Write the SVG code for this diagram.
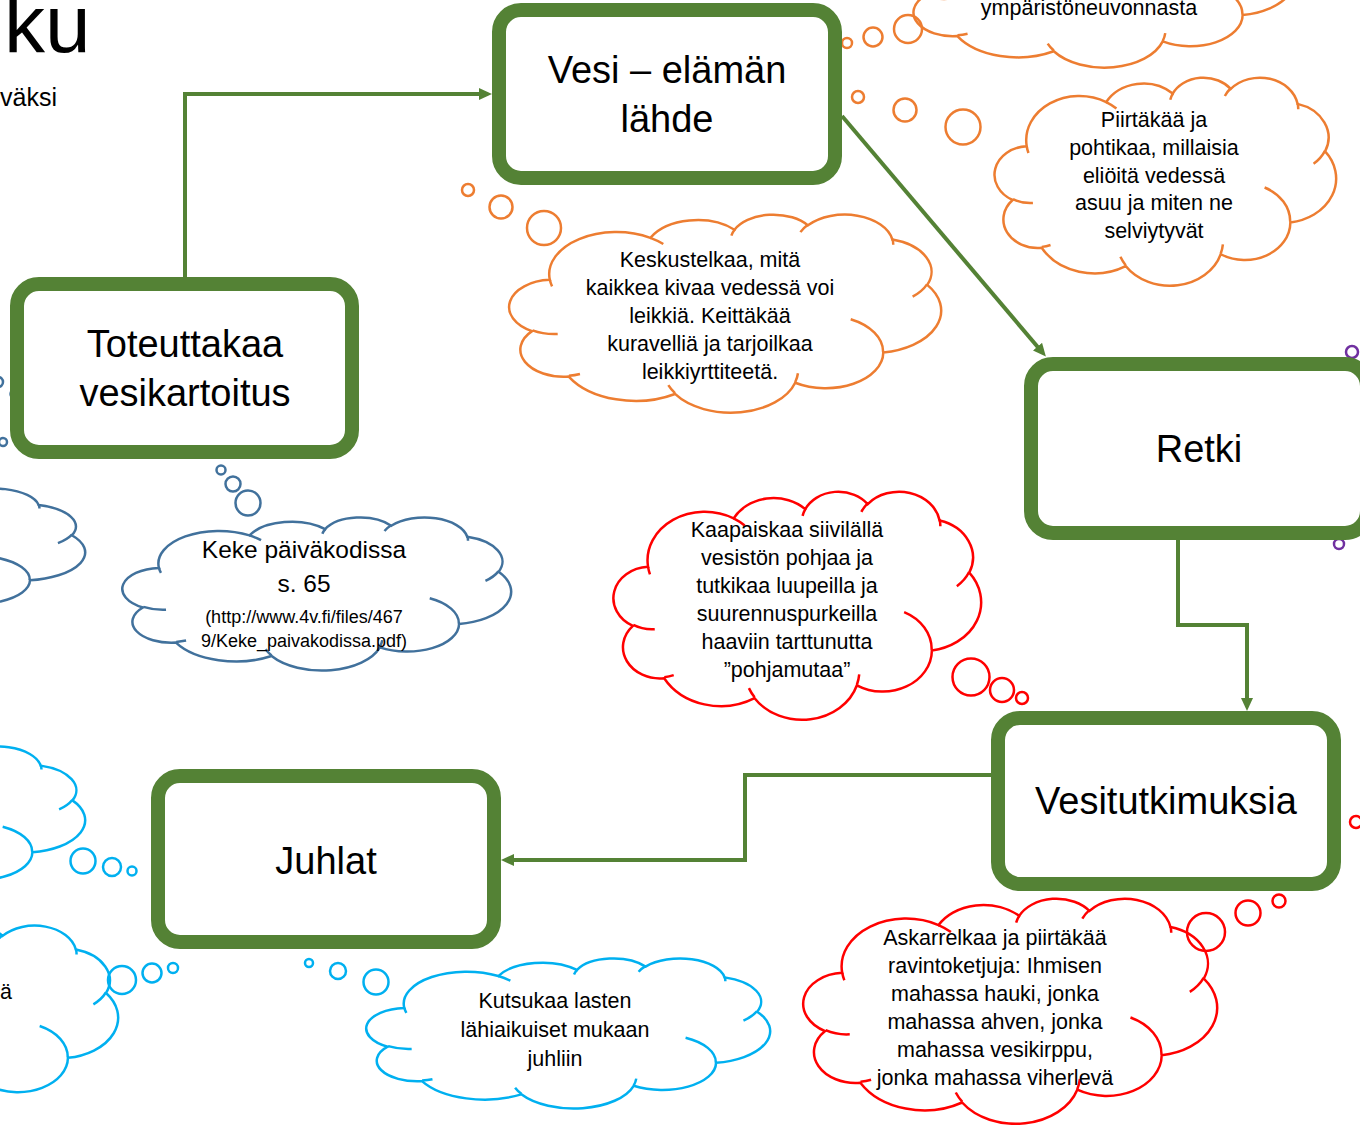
<svg xmlns="http://www.w3.org/2000/svg" width="1360" height="1125" viewBox="0 0 1360 1125">
<style>
text{font-family:"Liberation Sans",Arial,sans-serif;fill:#000;stroke:none}
.box rect{fill:#fff;stroke:#548235;stroke-width:14}
.box text{font-size:38px;text-anchor:middle}
.ct{font-size:21.5px;text-anchor:middle}
.cloud{stroke-width:2.5}
.orange{stroke:#ed7d31}
.steel{stroke:#41719c}
.cyan{stroke:#00b0f0}
.red{stroke:#ff0000}
.purple{stroke:#7030a0}
.bub circle{fill:none;stroke-width:2.5}
.conn path{fill:none;stroke:#548235;stroke-width:4}
</style>
<defs>
<path id="co" vector-effect="non-scaling-stroke" fill="#fff" d="M9.03,33.26 A15.63,21.27 0 0 1 32.42,12.04 A12.35,16.82 0 0 1 51.98,7.94 A10.10,13.76 0 0 1 69.05,5.74 A11.24,15.27 0 0 1 88.70,12.91 A12.35,16.84 0 0 1 96.80,35.79 A15.68,21.34 0 0 1 86.58,69.91 A13.39,18.21 0 0 1 66.09,85.21 A15.63,21.33 0 0 1 38.14,90.89 A17.87,24.41 0 0 1 13.43,82.10 A10.09,13.70 0 0 1 4.89,59.14 A10.06,13.76 0 0 1 9.03,33.26 Z"/>
<path id="cc" vector-effect="non-scaling-stroke" fill="none" d="M10.86,60.59 A10.06,13.76 0 0 1 5.00,58.75 M16.04,80.78 A10.09,13.70 0 0 1 13.47,81.67 M38.14,90.49 A15.63,21.33 0 0 1 36.59,86.45 M66.73,80.44 A15.63,21.33 0 0 1 66.11,84.86 M79.00,53.13 A13.39,18.21 0 0 1 86.53,69.65 M96.75,35.54 A12.35,16.84 0 0 1 93.40,41.74 M88.71,12.56 A11.24,15.27 0 0 1 88.89,15.48 M67.31,9.15 A11.24,15.27 0 0 1 69.03,5.41 M51.25,10.93 A10.10,13.76 0 0 1 52.08,7.71 M32.41,12.02 A15.63,21.27 0 0 1 35.42,15.14 M9.55,36.55 A15.63,21.27 0 0 1 9.03,33.26"/>
<marker id="ah" markerUnits="userSpaceOnUse" markerWidth="13" markerHeight="12" viewBox="0 0 13 12" refX="7" refY="6" orient="auto"><path d="M0,0 L13,6 L0,12 z" fill="#548235"/></marker>
</defs>
<rect width="1360" height="1125" fill="#fff"/>

<g id="title">
<text x="4" y="52" font-size="82">ku</text>
<text x="0" y="106" font-size="25" font-weight="500">väksi</text>
</g>

<g id="connectors" class="conn">
<path d="M185,277 V94 H486" marker-end="url(#ah)"/>
<path d="M842,116 L1042,352" marker-end="url(#ah)"/>
<path d="M1178,540 V625 H1247 V705" marker-end="url(#ah)"/>
<path d="M991,775 H745 V860 H507" marker-end="url(#ah)"/>
</g>

<g id="cloud-c" class="cloud orange">
<use href="#co" transform="translate(905,-106) scale(3.90,1.73)"/>
<use href="#cc" transform="translate(905,-106) scale(3.90,1.73)"/>
<text class="ct" x="1089" y="15">ympäristöneuvonnasta</text>
</g>
<g id="bubbles-c" class="bub orange">
<circle cx="847" cy="43" r="5"/><circle cx="873" cy="37" r="9.5"/><circle cx="908" cy="29" r="14"/>
</g>

<g id="cloud-b" class="cloud orange">
<use href="#co" transform="translate(996,77) scale(3.40,2.08)"/>
<use href="#cc" transform="translate(996,77) scale(3.40,2.08)"/>
<text class="ct"><tspan x="1154" y="127">Piirtäkää ja</tspan><tspan x="1154" y="155">pohtikaa, millaisia</tspan><tspan x="1154" y="183">eliöitä vedessä</tspan><tspan x="1154" y="210">asuu ja miten ne</tspan><tspan x="1154" y="238">selviytyvät</tspan></text>
</g>
<g id="bubbles-b" class="bub orange">
<circle cx="858" cy="97" r="6"/><circle cx="905" cy="110" r="11.5"/><circle cx="963" cy="127" r="17.5"/>
</g>

<g id="cloud-a" class="cloud orange">
<use href="#co" transform="translate(511,214) scale(4.30,1.98)"/>
<use href="#cc" transform="translate(511,214) scale(4.30,1.98)"/>
<text class="ct"><tspan x="710" y="267">Keskustelkaa, mitä</tspan><tspan x="710" y="295">kaikkea kivaa vedessä voi</tspan><tspan x="710" y="323">leikkiä. Keittäkää</tspan><tspan x="710" y="351">kuravelliä ja tarjoilkaa</tspan><tspan x="710" y="379">leikkiyrttiteetä.</tspan></text>
</g>
<g id="bubbles-a" class="bub orange">
<circle cx="468" cy="190" r="6"/><circle cx="501" cy="207" r="11.5"/><circle cx="544" cy="228" r="17"/>
</g>

<g id="cloud-e" class="cloud steel">
<use href="#co" transform="translate(-325,488) scale(4.10,1.32)"/>
<use href="#cc" transform="translate(-325,488) scale(4.10,1.32)"/>
</g>
<g id="bubbles-e" class="bub steel">
<circle cx="-2" cy="382" r="5"/><circle cx="15" cy="394" r="4.5"/><circle cx="3" cy="442" r="4"/>
</g>

<g id="cloud-d" class="cloud steel">
<use href="#co" transform="translate(124,517) scale(3.87,1.53)"/>
<use href="#cc" transform="translate(124,517) scale(3.87,1.53)"/>
<text text-anchor="middle" font-size="24.5"><tspan x="304" y="558">Keke päiväkodissa</tspan><tspan x="304" y="592">s. 65</tspan></text>
<text text-anchor="middle" font-size="18"><tspan x="304" y="623">(http://www.4v.fi/files/467</tspan><tspan x="304" y="647">9/Keke_paivakodissa.pdf)</tspan></text>
</g>
<g id="bubbles-d" class="bub steel">
<circle cx="221" cy="470" r="4.5"/><circle cx="233" cy="484" r="7.5"/><circle cx="248" cy="503" r="12.5"/>
</g>

<g id="cloud-i" class="cloud red">
<use href="#co" transform="translate(615,491) scale(3.66,2.28)"/>
<use href="#cc" transform="translate(615,491) scale(3.66,2.28)"/>
<text class="ct"><tspan x="787" y="537">Kaapaiskaa siivilällä</tspan><tspan x="787" y="565">vesistön pohjaa ja</tspan><tspan x="787" y="593">tutkikaa luupeilla ja</tspan><tspan x="787" y="621">suurennuspurkeilla</tspan><tspan x="787" y="649">haaviin tarttunutta</tspan><tspan x="787" y="677">”pohjamutaa”</tspan></text>
</g>
<g id="bubbles-i" class="bub red">
<circle cx="971" cy="677" r="18.5"/><circle cx="1002" cy="690" r="12"/><circle cx="1022" cy="698" r="6"/>
</g>

<g id="cloud-f" class="cloud cyan">
<use href="#co" transform="translate(-307,746) scale(3.92,1.52)"/>
<use href="#cc" transform="translate(-307,746) scale(3.92,1.52)"/>
</g>
<g id="bubbles-f" class="bub cyan">
<circle cx="83" cy="861" r="12.5"/><circle cx="112" cy="867" r="9"/><circle cx="132" cy="871" r="4.5"/>
</g>

<g id="cloud-g" class="cloud cyan">
<use href="#co" transform="translate(-255,925) scale(3.73,1.90)"/>
<use href="#cc" transform="translate(-255,925) scale(3.73,1.90)"/>
<text x="0" y="999" font-size="21.5">ä</text>
</g>
<g id="bubbles-g" class="bub cyan">
<circle cx="122" cy="980" r="14"/><circle cx="152" cy="973" r="9.5"/><circle cx="173" cy="968" r="5"/>
</g>

<g id="cloud-h" class="cloud cyan">
<use href="#co" transform="translate(368,958) scale(4.02,1.50)"/>
<use href="#cc" transform="translate(368,958) scale(4.02,1.50)"/>
<text class="ct"><tspan x="555" y="1008">Kutsukaa lasten</tspan><tspan x="555" y="1037">lähiaikuiset mukaan</tspan><tspan x="555" y="1066">juhliin</tspan></text>
</g>
<g id="bubbles-h" class="bub cyan">
<circle cx="309" cy="963" r="4"/><circle cx="338" cy="971" r="8"/><circle cx="376" cy="982" r="12.5"/>
</g>

<g id="cloud-j" class="cloud red">
<use href="#co" transform="translate(805,898) scale(4.12,2.25)"/>
<use href="#cc" transform="translate(805,898) scale(4.12,2.25)"/>
<text class="ct"><tspan x="995" y="945">Askarrelkaa ja piirtäkää</tspan><tspan x="995" y="973">ravintoketjuja: Ihmisen</tspan><tspan x="995" y="1001">mahassa hauki, jonka</tspan><tspan x="995" y="1029">mahassa ahven, jonka</tspan><tspan x="995" y="1057">mahassa vesikirppu,</tspan><tspan x="995" y="1085">jonka mahassa viherlevä</tspan></text>
</g>
<g id="bubbles-j" class="bub red">
<circle cx="1206" cy="932" r="19"/><circle cx="1248" cy="913" r="12.5"/><circle cx="1279" cy="901" r="6.5"/>
</g>

<g id="bubbles-misc" class="bub">
<circle class="purple" cx="1352" cy="352" r="6"/>
<circle class="purple" cx="1339" cy="544" r="5"/>
<circle class="red" cx="1356" cy="822" r="6"/>
</g>

<g id="node-vesi" class="box">
<rect x="499" y="10" width="336" height="168" rx="22"/>
<text><tspan x="667" y="83">Vesi – elämän</tspan><tspan x="667" y="132">lähde</tspan></text>
</g>
<g id="node-toteuttakaa" class="box">
<rect x="17" y="284" width="335" height="168" rx="22"/>
<text><tspan x="185" y="357">Toteuttakaa</tspan><tspan x="185" y="406">vesikartoitus</tspan></text>
</g>
<g id="node-retki" class="box">
<rect x="1031" y="364" width="336" height="169" rx="22"/>
<text x="1199" y="462">Retki</text>
</g>
<g id="node-vesitutkimuksia" class="box">
<rect x="998" y="718" width="336" height="166" rx="22"/>
<text x="1166" y="814">Vesitutkimuksia</text>
</g>
<g id="node-juhlat" class="box">
<rect x="158" y="776" width="336" height="166" rx="22"/>
<text x="326" y="874">Juhlat</text>
</g>
</svg>
